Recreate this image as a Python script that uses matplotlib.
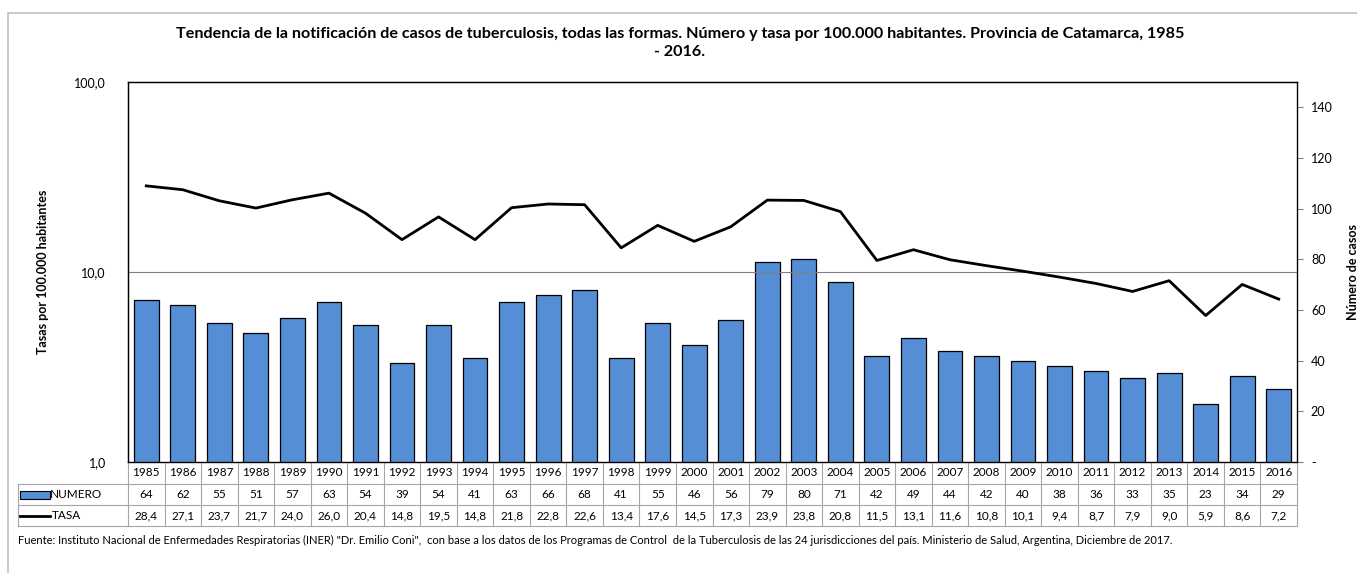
import matplotlib.pyplot as plt
import matplotlib.transforms as mtransforms
from matplotlib.patches import Rectangle
from matplotlib.lines import Line2D
from matplotlib.ticker import FixedLocator, FixedFormatter, NullLocator

plt.rcParams['font.family'] = ['Lato', 'DejaVu Sans']

years = list(range(1985, 2017))
numero = [64, 62, 55, 51, 57, 63, 54, 39, 54, 41, 63, 66, 68, 41, 55, 46,
          56, 79, 80, 71, 42, 49, 44, 42, 40, 38, 36, 33, 35, 23, 34, 29]
tasa = [28.4, 27.1, 23.7, 21.7, 24.0, 26.0, 20.4, 14.8, 19.5, 14.8, 21.8,
        22.8, 22.6, 13.4, 17.6, 14.5, 17.3, 23.9, 23.8, 20.8, 11.5, 13.1,
        11.6, 10.8, 10.1, 9.4, 8.7, 7.9, 9.0, 5.9, 8.6, 7.2]

titulo = ("Tendencia de la notificación de casos de tuberculosis, todas las formas. "
          "Número y tasa por 100.000 habitantes. Provincia de Catamarca, 1985\n- 2016.")
fuente = ('Fuente: Instituto Nacional de Enfermedades Respiratorias (INER) "Dr. Emilio Coni",  '
          'con base a los datos de los Programas de Control  de la Tuberculosis de las 24 '
          'jurisdicciones del país. Ministerio de Salud, Argentina, Diciembre de 2017.')

blue = '#558ED5'
fig = plt.figure(figsize=(13.57, 5.73), dpi=100)

# outer frame
fig.patches.append(Rectangle((8/1357, -0.1), 1.2, 1 - 13/573 + 0.1, transform=fig.transFigure,
                             fill=False, edgecolor='#bfbfbf', lw=1.2))

ax = fig.add_axes([128/1357, 1 - 462/573, (1297 - 128)/1357, (462 - 82)/573])
ax2 = ax.twinx()

x = list(range(len(years)))
ax2.bar(x, numero, width=0.68, color=blue, edgecolor='black', lw=0.9, zorder=2)
ax2.set_ylim(0, 150)
ax2.set_yticks([0, 20, 40, 60, 80, 100, 120, 140])
ax2.set_yticklabels(['-', '20', '40', '60', '80', '100', '120', '140'])
ax2.tick_params(axis='y', labelsize=9, length=4, color='#808080', pad=6)
ax2.set_ylabel('Número de casos', fontsize=9, fontweight='bold', labelpad=10)

ax.set_zorder(ax2.get_zorder() + 1)
ax.patch.set_visible(False)
ax.set_yscale('log')
ax.set_ylim(1, 100)
ax.yaxis.set_major_locator(FixedLocator([1, 10, 100]))
ax.yaxis.set_major_formatter(FixedFormatter(['1,0', '10,0', '100,0']))
ax.yaxis.set_minor_locator(NullLocator())
ax.tick_params(axis='y', labelsize=9, length=0, pad=16)
ax.set_ylabel('Tasas por 100.000 habitantes', fontsize=9, fontweight='bold', labelpad=18)
ax.axhline(10, color='#808080', lw=0.8, zorder=1)
ax.plot(x, tasa, color='black', lw=2, zorder=5)
ax.set_xlim(-0.5, len(years) - 0.5)
ax.set_xticks([])
ax2.set_xticks([])

for a in (ax, ax2):
    for s in a.spines.values():
        s.set_color('black')
        s.set_linewidth(0.9)
ax2.spines['right'].set_color('#808080')
ax2.spines['bottom'].set_color('#808080')

# data table
tr = mtransforms.blended_transform_factory(ax.transData, ax.transAxes)
fpx = 1 / 380
rows = [0, -22 * fpx, -43 * fpx, -64 * fpx]
grid = '#a6a6a6'
xl = -0.5 - (128 - 18) / 36.53
for r in rows:
    x0 = -0.5 if r == 0 else xl
    ax.add_line(Line2D([x0, len(years) - 0.5], [r, r], transform=tr, color=grid, lw=0.8, clip_on=False))
for i in range(len(years) + 1):
    ax.add_line(Line2D([i - 0.5, i - 0.5], [rows[0], rows[3]], transform=tr, color=grid, lw=0.8, clip_on=False))
ax.add_line(Line2D([xl, xl], [rows[1], rows[3]], transform=tr, color=grid, lw=0.8, clip_on=False))

for i, yr in enumerate(years):
    ax.text(i, (rows[0] + rows[1]) / 2, str(yr), transform=tr, ha='center', va='center', fontsize=8.5)
    ax.text(i, (rows[1] + rows[2]) / 2, str(numero[i]), transform=tr, ha='center', va='center', fontsize=8.5)
    ax.text(i, (rows[2] + rows[3]) / 2, f'{tasa[i]:.1f}'.replace('.', ','), transform=tr,
            ha='center', va='center', fontsize=8.5)

kx0 = xl + 2 / 36.53
kx1 = xl + 32 / 36.53
ym = (rows[1] + rows[2]) / 2
ax.add_patch(Rectangle((kx0, ym - 4 * fpx), kx1 - kx0, 8 * fpx, transform=tr, facecolor=blue,
                       edgecolor='black', lw=0.8, clip_on=False))
ax.text(kx1, ym, 'NUMERO', transform=tr, ha='left', va='center', fontsize=8.5)
ym2 = (rows[2] + rows[3]) / 2
ax.add_line(Line2D([kx0, kx1], [ym2, ym2], transform=tr, color='black', lw=2, clip_on=False))
ax.text(kx1 + 0.05, ym2, 'TASA', transform=tr, ha='left', va='center', fontsize=8.5)

fig.text(680/1357, 1 - 43/573, titulo, ha='center', va='center', fontsize=11.6,
         fontweight='bold', linespacing=1.45)
fig.text(18/1357, 1 - 540/573, fuente, ha='left', va='center', fontsize=8.05)

fig.savefig('out.png', dpi=100)
